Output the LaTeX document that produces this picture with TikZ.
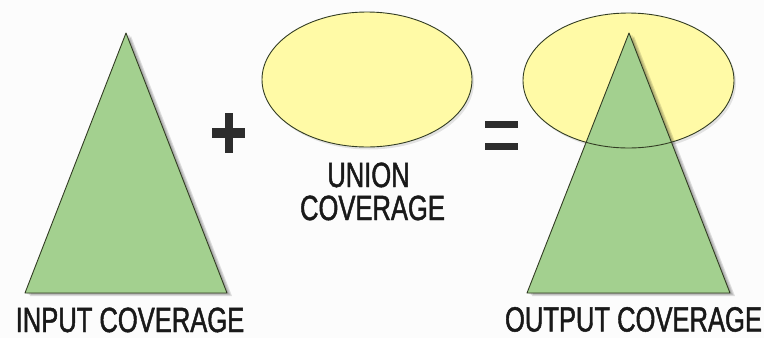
\documentclass[tikz,border=0pt]{standalone}
\usepackage{fontspec}
\newfontfamily\labfont[FakeStretch=0.73,FakeBold=1.3]{Liberation Sans}
\definecolor{trigreen}{RGB}{163,208,143}
\definecolor{ellyellow}{RGB}{255,250,166}
\definecolor{edgedark}{RGB}{50,60,35}
\definecolor{signgray}{RGB}{45,45,45}
\definecolor{labgray}{RGB}{25,25,25}
\tikzset{
  trishape/.style={fill=trigreen, draw=edgedark, line width=0.9pt, line join=round},
  ellshape/.style={fill=ellyellow},
  elledge/.style={draw=edgedark, line width=0.9pt},
  shadowlayer/.style={fill=black, opacity=0.12},
  signbar/.style={fill=signgray},
  labeltext/.style={font=\labfont\fontsize{35}{36}\selectfont, text=labgray, inner sep=0pt, anchor=base}
}
\begin{document}
\begin{tikzpicture}[x=1pt,y=-1pt]
\useasboundingbox (0,0) rectangle (764,338);
\fill[white!97!black!40!white] (0,0) rectangle (764,338);

% ---- input triangle ----
\coordinate (ta) at (126,33);
\coordinate (tl) at (25,293);
\coordinate (tr) at (227,293);
\foreach \d in {2,3.5,5}{
  \fill[shadowlayer] ([shift={(\d,\d*0.6)}]ta) -- ([shift={(\d,\d*0.6)}]tr) -- ([shift={(\d,\d*0.6)}]tl) -- cycle;
}
\path[trishape] (ta) -- (tr) -- (tl) -- cycle;

% ---- plus sign ----
\fill[signbar] (212,128) rectangle (245,138);
\fill[signbar] (225,113) rectangle (233,153);

% ---- union ellipse ----
\fill[black,opacity=0.10] (369,82) ellipse [x radius=105, y radius=67.5];
\path[ellshape] (367,79.5) ellipse [x radius=105, y radius=67.5];
\path[elledge] (367,79.5) ellipse [x radius=105, y radius=67.5];
\node[labeltext] (union1) at (368.5,187) {UNION};
\node[labeltext] (union2) at (372.5,220) {COVERAGE};

% ---- equals sign ----
\fill[signbar] (485,121) rectangle (518,127.5);
\fill[signbar] (485,143) rectangle (518,150);

% ---- output ----
\fill[black,opacity=0.10] (630.5,83) ellipse [x radius=105.5, y radius=67.5];
\path[ellshape] (628.5,80.5) ellipse [x radius=105.5, y radius=67.5];
\coordinate (oa) at (629,33);
\coordinate (ol) at (527,293);
\coordinate (or) at (730,293);
\foreach \d in {2,3.5,5}{
  \fill[shadowlayer] ([shift={(\d,\d*0.6)}]oa) -- ([shift={(\d,\d*0.6)}]or) -- ([shift={(\d,\d*0.6)}]ol) -- cycle;
}
\path[trishape] (oa) -- (or) -- (ol) -- cycle;
\path[elledge] (628.5,80.5) ellipse [x radius=105.5, y radius=67.5];

% ---- labels ----
\node[labeltext] (inlab) at (130,332) {INPUT COVERAGE};
\node[labeltext] (outlab) at (633.5,331.5) {OUTPUT COVERAGE};
\end{tikzpicture}
\end{document}
